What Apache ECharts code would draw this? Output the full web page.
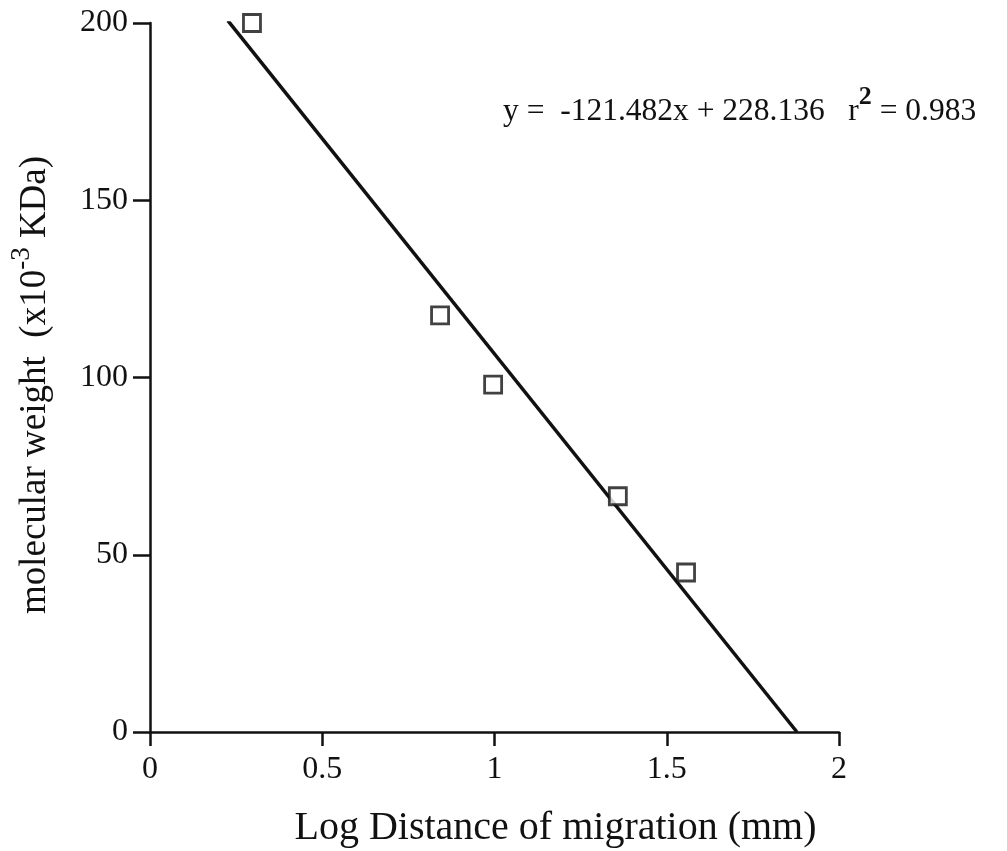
<!DOCTYPE html>
<html>
<head>
<meta charset="utf-8">
<script src="https://cdn.jsdelivr.net/npm/echarts@6/dist/echarts.min.js"></script>
<style>
    html, body { margin: 0; padding: 0; background: #fff; }
    #chart { width: 1007px; height: 851px; }
</style>
</head>
<body>
<div id="chart"></div>
<script>
// measured points
var logDistance = [0.296, 0.842, 0.996, 1.358, 1.556];
var molWeight = [200, 117.5, 98, 66.5, 45];
// fit line
var slope = -121.482;
var intercept = 228.136;
var fitRange = [0.226, 1.878];
var xTicks = [0, 0.5, 1, 1.5, 2];
var yTicks = [0, 50, 100, 150, 200];

!function(win){
    var font = '"Liberation Serif", "DejaVu Serif", serif';
    var chart = echarts.init(document.getElementById('chart'));

    var points = logDistance.map(function(x, i){ return [x, molWeight[i]]; });
    var fit = fitRange.map(function(x){ return [x, slope * x + intercept]; });

    var option = {
        backgroundColor: '#fff',
        animation: false,
        textStyle: { fontFamily: font, color: '#111' },
        grid: { left: 150, right: 168, top: 23, bottom: 119, outerBoundsMode: 'none', containLabel: false },
        title: {
            left: 498, top: 79,
            text: '{t|y =  -121.482x + 228.136   r}{sup|2}{t| = 0.983}',
            textStyle: {
                fontWeight: 'normal',
                rich: {
                    t: { fontFamily: font, fontSize: 31.5, fontWeight: 'normal', color: '#111', verticalAlign: 'bottom', lineHeight: 44 },
                    sup: { fontFamily: font, fontSize: 26, fontWeight: 'bold', color: '#111', verticalAlign: 'top', padding: [0, 0, 16, 0], lineHeight: 44 }
                }
            }
        },
        xAxis: {
            type: 'value', min: 0, max: 2, interval: 0.5,
            name: 'Log Distance of migration (mm)',
            nameLocation: 'middle', nameGap: 76,
            nameTextStyle: { fontFamily: font, fontSize: 40, color: '#111', padding: [0, 0, 0, 122] },
            axisLine: { onZero: false, lineStyle: { color: '#111', width: 2.5 } },
            axisTick: { show: true, inside: false, length: 14, lineStyle: { color: '#111', width: 2.5 } },
            axisLabel: { fontFamily: font, fontSize: 32, color: '#111', margin: 22 },
            splitLine: { show: false }
        },
        yAxis: {
            type: 'value', min: 0, max: 200, interval: 50,
            name: '{t|molecular weight  (x10}{sup|-3}{t| KDa)}',
            nameLocation: 'middle', nameGap: 96, nameRotate: 90,
            nameTextStyle: {
                padding: [0, 15, 0, 0],
                rich: {
                    t: { fontFamily: font, fontSize: 37, color: '#111', verticalAlign: 'bottom', lineHeight: 46 },
                    sup: { fontFamily: font, fontSize: 27, color: '#111', verticalAlign: 'top', lineHeight: 46, padding: [0, 0, 17, 0] }
                }
            },
            axisLine: { show: true, onZero: false, lineStyle: { color: '#111', width: 2.5 } },
            axisTick: { show: true, inside: false, length: 17, lineStyle: { color: '#111', width: 2.5 } },
            axisLabel: { fontFamily: font, fontSize: 32, color: '#111', margin: 22 },
            splitLine: { show: false }
        },
        series: [
            {
                type: 'line',
                data: fit,
                symbol: 'none',
                lineStyle: { color: '#111', width: 3.5 },
                z: 3
            },
            {
                type: 'scatter',
                data: points,
                symbol: 'rect',
                symbolSize: 17,
                itemStyle: { color: '#fff', borderColor: '#111', borderWidth: 2.8 },
                z: 4
            }
        ]
    };
    chart.setOption(option);
}(window);
</script>
</body>
</html>
